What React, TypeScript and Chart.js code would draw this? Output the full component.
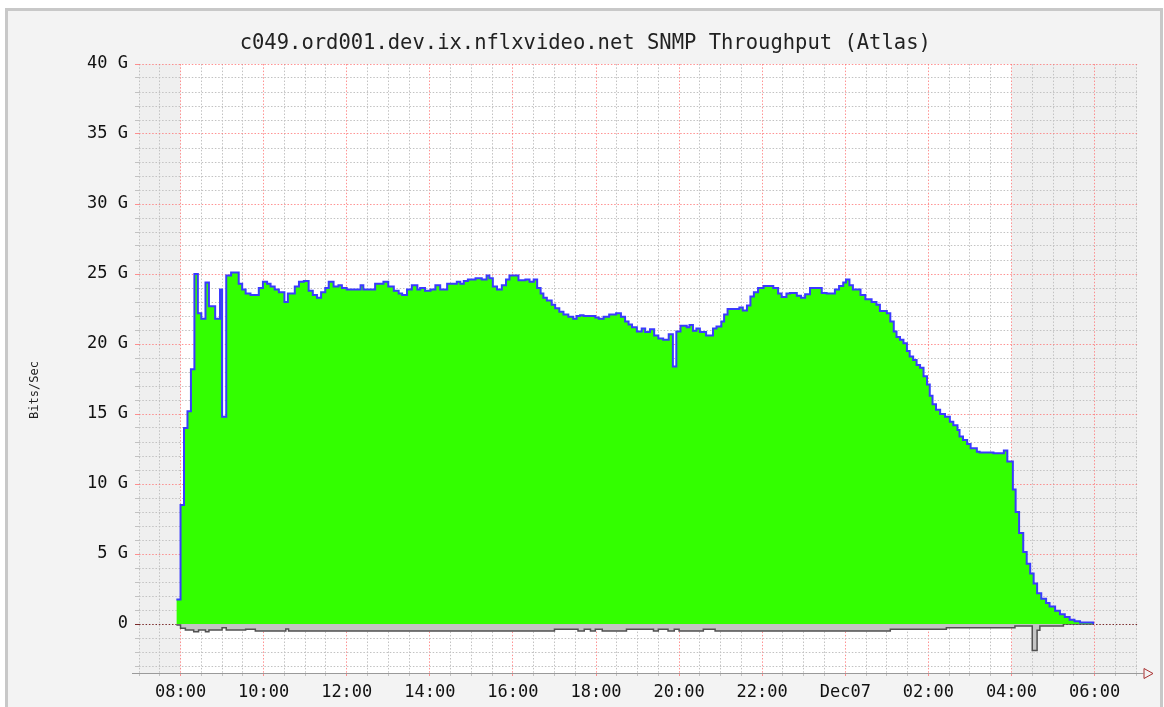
import { useEffect, useRef } from 'react';
import { Chart, registerables } from 'chart.js';

Chart.register(...registerables);

const TITLE = 'c049.ord001.dev.ix.nflxvideo.net SNMP Throughput (Atlas)';
const Y_TITLE = 'Bits/Sec';

// x values are minutes after Dec 06 08:00
const X_MIN = -60;
const X_MAX = 1382;
const xTickMinutes = [0, 120, 240, 360, 480, 600, 720, 840, 960, 1080, 1200, 1320];
const xTickLabels = ['08:00', '10:00', '12:00', '14:00', '16:00', '18:00', '20:00', '22:00', 'Dec07', '02:00', '04:00', '06:00'];
const yTickValues = [0, 5, 10, 15, 20, 25, 30, 35, 40];
const yTickLabels = ['0', '5 G', '10 G', '15 G', '20 G', '25 G', '30 G', '35 G', '40 G'];
const shadedStart = [-60, 1200];
const shadedEnd = [0, 1382];

// inbound throughput (Gbit/s), stepped: value holds from its minute to the next one
const inMinutes = [
  -6, 0, 5, 10, 15, 20, 25, 30, 36, 41, 50, 57, 60, 66, 73, 84, 89, 94, 101, 113,
  119, 125, 130, 136, 142, 150, 155, 165, 171, 178, 185, 191, 197, 203, 209, 214, 221, 228, 233, 240,
  260, 264, 281, 293, 300, 308, 315, 320, 327, 334, 342, 346, 353, 361, 368, 375, 385, 399, 404, 409,
  415, 426, 435, 442, 446, 451, 457, 464, 470, 475, 488, 498, 504, 510, 515, 520, 524, 529, 536, 541,
  547, 553, 560, 567, 572, 577, 582, 599, 604, 611, 619, 629, 636, 642, 647, 652, 659, 666, 671, 678,
  684, 690, 697, 705, 711, 716, 722, 731, 735, 740, 745, 750, 759, 769, 774, 781, 785, 790, 807, 812,
  818, 823, 828, 834, 842, 856, 863, 868, 875, 880, 890, 896, 902, 909, 926, 933, 945, 951, 957, 961,
  966, 971, 982, 989, 998, 1005, 1010, 1020, 1025, 1030, 1034, 1039, 1044, 1049, 1053, 1058, 1063, 1068, 1073, 1078,
  1082, 1086, 1091, 1097, 1104, 1111, 1116, 1122, 1125, 1130, 1136, 1141, 1150, 1154, 1174, 1189, 1194, 1202, 1206, 1211,
  1217, 1222, 1227, 1232, 1237, 1243, 1250, 1255, 1263, 1270, 1277, 1284, 1291, 1299, 1318,
];
const inGbps = [
  1.75, 8.5, 14.0, 15.2, 18.2, 25.0, 22.2, 21.8, 24.4, 22.7, 21.8, 23.9, 14.8, 24.9, 25.1, 24.3, 23.9, 23.6, 23.5, 24.0,
  24.45, 24.3, 24.1, 23.9, 23.7, 23.0, 23.6, 24.1, 24.45, 24.5, 23.8, 23.5, 23.3, 23.7, 24.0, 24.45, 24.1, 24.2, 24.0, 23.9,
  24.2, 23.9, 24.3, 24.45, 24.1, 23.8, 23.6, 23.5, 23.9, 24.2, 23.9, 24.0, 23.8, 23.9, 24.2, 23.9, 24.3, 24.45, 24.3, 24.5,
  24.6, 24.7, 24.6, 24.9, 24.7, 24.1, 23.9, 24.2, 24.6, 24.9, 24.55, 24.6, 24.45, 24.6, 24.0, 23.6, 23.3, 23.1, 22.8, 22.55,
  22.3, 22.1, 21.95, 21.8, 22.0, 22.05, 22.0, 21.9, 21.8, 21.95, 22.1, 22.2, 21.95, 21.6, 21.4, 21.2, 20.9, 21.1, 20.85, 21.05,
  20.6, 20.4, 20.3, 20.7, 18.4, 20.9, 21.3, 21.2, 21.35, 20.95, 21.1, 20.85, 20.6, 21.1, 21.25, 21.6, 22.1, 22.5, 22.6, 22.4,
  22.75, 23.4, 23.7, 24.0, 24.15, 24.0, 23.6, 23.35, 23.6, 23.65, 23.45, 23.3, 23.55, 24.0, 23.65, 23.6, 23.9, 24.15, 24.4, 24.6,
  24.2, 23.9, 23.5, 23.2, 23.0, 22.8, 22.35, 22.2, 21.6, 20.9, 20.5, 20.3, 20.05, 19.5, 19.1, 18.85, 18.5, 18.3, 17.7, 17.1,
  16.3, 15.7, 15.3, 15.0, 14.8, 14.45, 14.2, 13.85, 13.4, 13.15, 12.85, 12.55, 12.3, 12.25, 12.2, 12.4, 11.6, 9.6, 8.0, 6.5,
  5.15, 4.3, 3.6, 2.9, 2.2, 1.8, 1.5, 1.25, 0.95, 0.7, 0.5, 0.3, 0.2, 0.1, 0,
];

// outbound throughput drawn below zero (Gbit/s)
const outMinutes = [
  -6, 0, 7, 19, 26, 36, 41, 60, 66, 94, 108, 152, 156, 540, 574, 583, 592, 599, 609, 644,
  683, 690, 704, 713, 720, 755, 772, 1025, 1106, 1205, 1230, 1237, 1241, 1275, 1318,
];
const outGbps = [
  -0.07, -0.31, -0.43, -0.55, -0.43, -0.55, -0.43, -0.26, -0.43, -0.38, -0.5, -0.35, -0.5, -0.38, -0.5, -0.38, -0.5, -0.38, -0.5, -0.38,
  -0.5, -0.38, -0.5, -0.38, -0.5, -0.38, -0.5, -0.38, -0.26, -0.14, -1.9, -0.45, -0.14, 0, 0,
];

const MONO = "'DejaVu Sans Mono', monospace";

const rrdPlugin = {
  id: 'rrdDecor',
  beforeDraw(chart: any) {
    const { ctx, chartArea } = chart;
    const x = chart.scales.x;
    ctx.save();
    ctx.fillStyle = '#ffffff';
    ctx.fillRect(chartArea.left, chartArea.top, chartArea.right - chartArea.left, chartArea.bottom - chartArea.top);
    ctx.fillStyle = '#efefef';
    for (let i = 0; i < shadedStart.length; i++) {
      const a = x.getPixelForValue(shadedStart[i]);
      const b = x.getPixelForValue(shadedEnd[i]);
      ctx.fillRect(a, chartArea.top, b - a, chartArea.bottom - chartArea.top);
    }
    ctx.restore();
  },
  afterDraw(chart: any) {
    const { ctx, chartArea } = chart;
    const { left, right, bottom } = chartArea;
    ctx.save();
    ctx.strokeStyle = '#9a9a9a';
    ctx.lineWidth = 1;
    ctx.beginPath();
    ctx.moveTo(left - 7, Math.round(bottom) + 0.5);
    ctx.lineTo(right + 6, Math.round(bottom) + 0.5);
    ctx.stroke();
    ctx.strokeStyle = '#a83030';
    ctx.beginPath();
    ctx.moveTo(right + 6.5, bottom - 4.5);
    ctx.lineTo(right + 15.5, bottom + 0.5);
    ctx.lineTo(right + 6.5, bottom + 5.5);
    ctx.closePath();
    ctx.stroke();
    // vertical axis title
    ctx.translate(27, 379);
    ctx.rotate(-Math.PI / 2);
    ctx.fillStyle = '#222';
    ctx.font = `12px ${MONO}`;
    ctx.textAlign = 'center';
    ctx.textBaseline = 'middle';
    ctx.fillText(Y_TITLE, 0, 0);
    ctx.restore();
  },
};

export default function App() {
  const canvasRef = useRef<HTMLCanvasElement | null>(null);

  useEffect(() => {
    if (!canvasRef.current) return;
    const chart = new Chart(canvasRef.current, {
      type: 'line',
      data: {
        datasets: [
          {
            label: 'In',
            data: inMinutes.map((m, i) => ({ x: m, y: inGbps[i] })),
            stepped: 'before',
            fill: 'origin',
            backgroundColor: '#33ff00',
            borderColor: '#3a3aff',
            borderWidth: 2,
            pointRadius: 0,
          },
          {
            label: 'Out',
            data: outMinutes.map((m, i) => ({ x: m, y: outGbps[i] })),
            stepped: 'before',
            fill: 'origin',
            backgroundColor: '#c4c4c4',
            borderColor: '#505050',
            borderWidth: 1.5,
            pointRadius: 0,
          },
        ],
      },
      options: {
        animation: false,
        responsive: false,
        layout: { padding: { left: 25, right: 22.5, top: 0, bottom: 0 } },
        plugins: {
          legend: { display: false },
          tooltip: { enabled: false },
          title: {
            display: true,
            text: TITLE,
            color: '#222',
            font: { family: MONO, size: 20.5, weight: 'normal' },
            padding: { top: 20, bottom: 8.4 },
          },
        },
        scales: {
          x: {
            type: 'linear',
            min: X_MIN,
            max: X_MAX,
            afterBuildTicks: (axis: any) => {
              const t = [];
              for (let m = X_MIN; m <= X_MAX; m += 30) t.push({ value: m });
              axis.ticks = t;
            },
            afterFit: (axis: any) => {
              axis.height = 34;
            },
            grid: {
              color: (c: any) => (xTickMinutes.includes(c.tick.value) ? 'rgba(255,110,110,0.75)' : '#c2c2c2'),
              lineWidth: 1,
              tickLength: 3,
            },
            border: { display: false, dash: [1.5, 1.8] },
            ticks: {
              autoSkip: false,
              maxRotation: 0,
              minRotation: 0,
              padding: 6,
              color: '#111',
              font: { family: MONO, size: 17 },
              callback: (v: any) => {
                const i = xTickMinutes.indexOf(Number(v));
                return i >= 0 ? xTickLabels[i] : '';
              },
            },
          },
          y: {
            min: -3.5,
            max: 40,
            afterBuildTicks: (axis: any) => {
              const t = [];
              for (let v = -3; v <= 40; v++) t.push({ value: v });
              axis.ticks = t;
            },
            afterFit: (axis: any) => {
              axis.width = 106;
            },
            grid: {
              color: (c: any) => {
                const v = c.tick.value;
                if (v === 0) return '#7a2a2a';
                return yTickValues.includes(v) ? 'rgba(255,110,110,0.75)' : '#c2c2c2';
              },
              lineWidth: 1,
              tickLength: 4,
            },
            border: { display: false, dash: [1.5, 1.8] },
            ticks: {
              autoSkip: false,
              padding: 7,
              color: '#111',
              font: { family: MONO, size: 17 },
              callback: (v: any) => {
                const i = yTickValues.indexOf(Number(v));
                return i >= 0 ? yTickLabels[i] : '';
              },
            },
          },
        },
      },
      plugins: [rrdPlugin],
    });
    return () => chart.destroy();
  }, []);

  return (
    <div
      style={{
        position: 'absolute',
        left: 5,
        top: 8,
        border: '3px solid #c8c8c8',
        background: '#f3f3f3',
        width: 1152,
        height: 696,
      }}
    >
      <canvas ref={canvasRef} width={1152} height={696} style={{ display: 'block' }} />
    </div>
  );
}
